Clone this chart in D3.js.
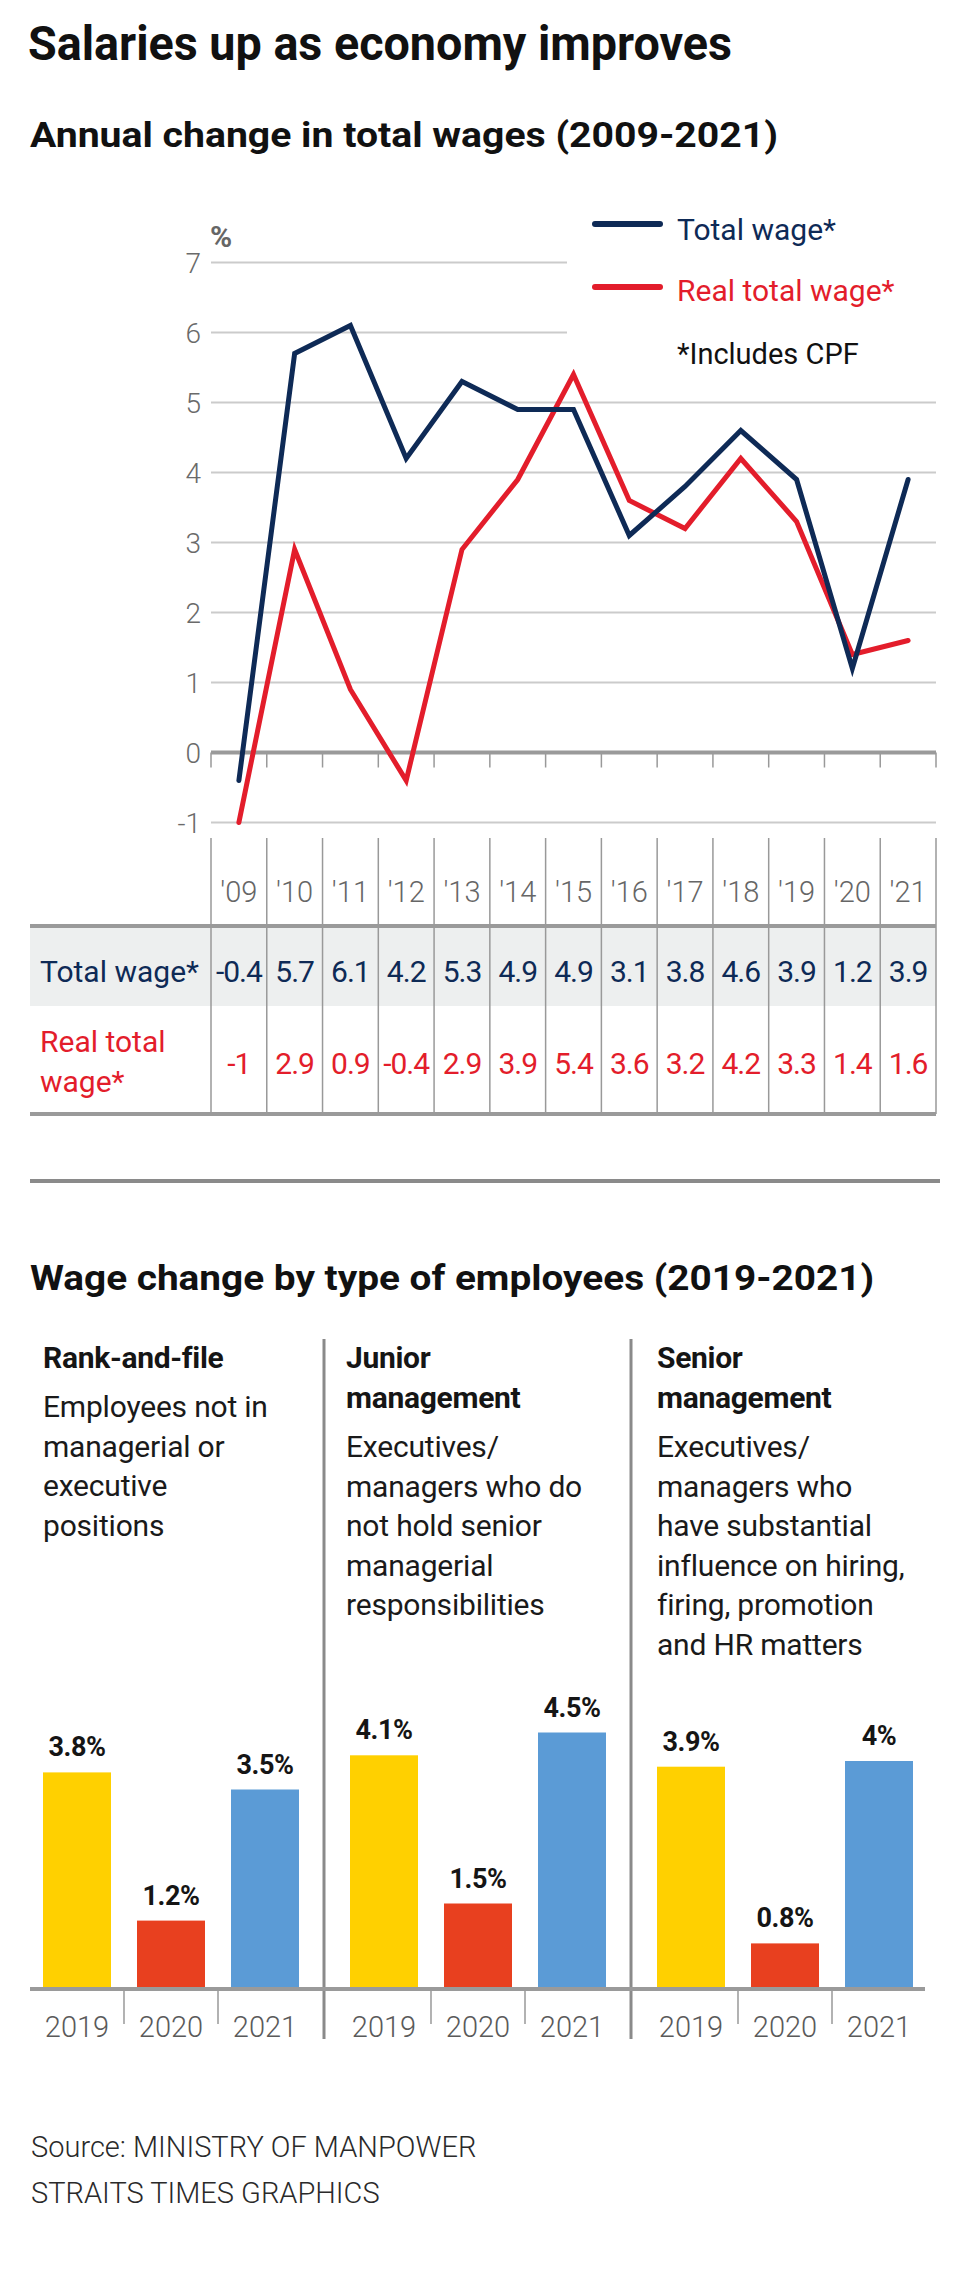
<!DOCTYPE html>
<html>
<head>
<meta charset="utf-8">
<script src="https://cdn.jsdelivr.net/npm/d3@7"></script>
<style>
  body { margin: 0; background: #fff; }
  svg { display: block; }
</style>
</head>
<body>
<script>
// ---------- DATA ----------
const years = ["'09", "'10", "'11", "'12", "'13", "'14", "'15", "'16", "'17", "'18", "'19", "'20", "'21"];
const totalWage = [-0.4, 5.7, 6.1, 4.2, 5.3, 4.9, 4.9, 3.1, 3.8, 4.6, 3.9, 1.2, 3.9];
const realTotalWage = [-1, 2.9, 0.9, -0.4, 2.9, 3.9, 5.4, 3.6, 3.2, 4.2, 3.3, 1.4, 1.6];
const yTicks = [-1, 0, 1, 2, 3, 4, 5, 6, 7];

const groups = ["Rank-and-file", "Junior management", "Senior management"];
const groupTitleLines = [["Rank-and-file"], ["Junior", "management"], ["Senior", "management"]];
const groupDescLines = [
  ["Employees not in", "managerial or", "executive", "positions"],
  ["Executives/", "managers who do", "not hold senior", "managerial", "responsibilities"],
  ["Executives/", "managers who", "have substantial", "influence on hiring,", "firing, promotion", "and HR matters"]
];
const barYears = ["2019", "2020", "2021"];
const rankAndFile = [3.8, 1.2, 3.5];
const juniorManagement = [4.1, 1.5, 4.5];
const seniorManagement = [3.9, 0.8, 4.0];
const barLabels = [["3.8%", "1.2%", "3.5%"], ["4.1%", "1.5%", "4.5%"], ["3.9%", "0.8%", "4%"]];

// ---------- STYLE ----------
const FONT = "Roboto, 'Liberation Sans', Arial, sans-serif";
const NAVY = "#0e2a56";
const RED = "#e31d2b";
const barColors = ["#ffd000", "#e8401f", "#5b9bd6"];

const W = 960, H = 2282;
const svg = d3.select("body").append("svg").attr("width", W).attr("height", H)
  .style("font-family", FONT);

function txt(x, y, s, size, opts = {}) {
  const t = svg.append("text").attr("x", x).attr("y", y).text(s)
    .attr("font-size", size)
    .attr("font-weight", opts.weight || 400)
    .attr("fill", opts.fill || "#111")
    .attr("text-anchor", opts.anchor || "start");
  if (opts.len) t.attr("textLength", opts.len).attr("lengthAdjust", "spacingAndGlyphs");
  if (opts.ls !== undefined) t.attr("letter-spacing", opts.ls);
  return t;
}

// ---------- TITLES ----------
txt(28, 60, "Salaries up as economy improves", 49, { weight: 700, len: 704 });
txt(30, 147, "Annual change in total wages (2009-2021)", 35, { weight: 700, len: 748 });

// ---------- LINE CHART ----------
const x = d3.scaleBand().domain(years).range([211, 936]);
const cx = d => x(d) + x.bandwidth() / 2;
const y = d3.scaleLinear().domain([-1, 7]).range([822.5, 262.5]);

// gridlines
svg.append("g").selectAll("line").data(yTicks.filter(t => t !== 0)).join("line")
  .attr("x1", 211).attr("x2", t => t >= 6 ? 567 : 936)
  .attr("y1", t => y(t)).attr("y2", t => y(t))
  .attr("stroke", "#cbcbcb").attr("stroke-width", 2);

// y labels
svg.append("g").selectAll("text").data(yTicks).join("text")
  .attr("x", 201).attr("y", t => y(t)).attr("dy", "0.36em")
  .attr("text-anchor", "end").attr("font-size", 28).attr("font-weight", 300)
  .attr("fill", "#6a6a6a").text(t => t);
txt(210, 247, "%", 30, { weight: 700, fill: "#666" });

// column boundaries
const bounds = years.map(d => x(d)).concat([x(years[years.length - 1]) + x.bandwidth()]);
svg.append("g").selectAll("line").data(bounds).join("line")
  .attr("x1", d => d).attr("x2", d => d).attr("y1", y(0)).attr("y2", y(0) + 15)
  .attr("stroke", "#999").attr("stroke-width", 1.5);

// zero line
svg.append("line").attr("x1", 211).attr("x2", 936).attr("y1", y(0)).attr("y2", y(0))
  .attr("stroke", "#9a9a9a").attr("stroke-width", 4);

// lines
const lineGen = d3.line().x((d, i) => cx(years[i])).y(d => y(d));
svg.append("path").datum(realTotalWage).attr("d", lineGen)
  .attr("fill", "none").attr("stroke", RED).attr("stroke-width", 5)
  .attr("stroke-linejoin", "miter").attr("stroke-linecap", "round");
svg.append("path").datum(totalWage).attr("d", lineGen)
  .attr("fill", "none").attr("stroke", NAVY).attr("stroke-width", 5)
  .attr("stroke-linejoin", "miter").attr("stroke-linecap", "round");

// legend
svg.append("line").attr("x1", 595).attr("x2", 660).attr("y1", 224).attr("y2", 224)
  .attr("stroke", NAVY).attr("stroke-width", 6).attr("stroke-linecap", "round");
txt(677, 240, "Total wage*", 30, { fill: NAVY });
svg.append("line").attr("x1", 595).attr("x2", 660).attr("y1", 287).attr("y2", 287)
  .attr("stroke", RED).attr("stroke-width", 6).attr("stroke-linecap", "round");
txt(677, 301, "Real total wage*", 30, { fill: RED });
txt(677, 364, "*Includes CPF", 29, { fill: "#111" });

// ---------- TABLE ----------
svg.append("rect").attr("x", 30).attr("y", 926).attr("width", 906).attr("height", 80)
  .attr("fill", "#edefef");
svg.append("g").selectAll("line").data(bounds).join("line")
  .attr("x1", d => d).attr("x2", d => d).attr("y1", 838).attr("y2", 1114)
  .attr("stroke", "#999").attr("stroke-width", 1.5);
[926, 1114].forEach(yy => svg.append("line").attr("x1", 30).attr("x2", 936)
  .attr("y1", yy).attr("y2", yy).attr("stroke", "#9a9a9a").attr("stroke-width", 4));

svg.append("g").selectAll("text").data(years).join("text")
  .attr("x", d => cx(d)).attr("y", 902).attr("text-anchor", "middle")
  .attr("font-size", 29).attr("font-weight", 300).attr("fill", "#666").text(d => d);

txt(40, 982, "Total wage*", 30, { fill: NAVY });
svg.append("g").selectAll("text").data(totalWage).join("text")
  .attr("x", (d, i) => cx(years[i])).attr("y", 982).attr("text-anchor", "middle")
  .attr("font-size", 30).attr("fill", NAVY).attr("letter-spacing", -1).text(d => d);

txt(40, 1052, "Real total", 30, { fill: RED });
txt(40, 1092, "wage*", 30, { fill: RED });
svg.append("g").selectAll("text").data(realTotalWage).join("text")
  .attr("x", (d, i) => cx(years[i])).attr("y", 1074).attr("text-anchor", "middle")
  .attr("font-size", 30).attr("fill", RED).attr("letter-spacing", -1).text(d => d);

// separator
svg.append("line").attr("x1", 30).attr("x2", 940).attr("y1", 1181).attr("y2", 1181)
  .attr("stroke", "#8a8a8a").attr("stroke-width", 4);

// ---------- BAR SECTION ----------
txt(30, 1290, "Wage change by type of employees (2019-2021)", 35, { weight: 700, len: 844 });

const groupValues = [rankAndFile, juniorManagement, seniorManagement];
const gx = d3.scaleBand().domain(groups).range([30, 951]);
const bx = d3.scaleBand().domain(barYears).range([13, 269]).paddingInner(0.2766).paddingOuter(0);
const by = d3.scaleLinear().domain([0, 5]).range([1989, 1989 - 285]);

// panel dividers
svg.append("g").selectAll("line").data(groups.slice(1)).join("line")
  .attr("x1", d => gx(d) - 13).attr("x2", d => gx(d) - 13)
  .attr("y1", 1339).attr("y2", 2039).attr("stroke", "#8a8a8a").attr("stroke-width", 3);

groups.forEach((g, gi) => {
  const ox = gx(g);
  const tx = ox + (gi === 1 ? 9 : 13);
  groupTitleLines[gi].forEach((l, li) => txt(tx, 1368 + li * 40, l, 30, { weight: 700, fill: "#151515", ls: -0.3 }));
  const d0 = 1368 + (groupTitleLines[gi].length - 1) * 40 + 49;
  groupDescLines[gi].forEach((l, li) => txt(tx, d0 + li * 39.6, l, 30, { weight: 400, fill: "#1a1a1a", ls: -0.2 }));

  const vals = groupValues[gi];
  const gg = svg.append("g").attr("transform", `translate(${ox},0)`);
  gg.selectAll("rect").data(vals).join("rect")
    .attr("x", (d, i) => bx(barYears[i])).attr("width", bx.bandwidth())
    .attr("y", d => by(d)).attr("height", d => by(0) - by(d))
    .attr("fill", (d, i) => barColors[i]);
  gg.selectAll("text.v").data(vals).join("text").attr("class", "v")
    .attr("x", (d, i) => bx(barYears[i]) + bx.bandwidth() / 2)
    .attr("y", d => by(d) - 16).attr("text-anchor", "middle")
    .attr("font-size", 27).attr("font-weight", 700).attr("fill", "#151515")
    .attr("letter-spacing", -0.5)
    .text((d, i) => barLabels[gi][i]);
  gg.selectAll("text.yr").data(barYears).join("text").attr("class", "yr")
    .attr("x", d => bx(d) + bx.bandwidth() / 2).attr("y", 2037).attr("text-anchor", "middle")
    .attr("font-size", 29).attr("font-weight", 300).attr("fill", "#5a5a5a").text(d => d);
  gg.selectAll("line.sep").data(barYears.slice(1)).join("line").attr("class", "sep")
    .attr("x1", d => bx(d) - (bx.step() - bx.bandwidth()) / 2)
    .attr("x2", d => bx(d) - (bx.step() - bx.bandwidth()) / 2)
    .attr("y1", 1990).attr("y2", 2024).attr("stroke", "#999").attr("stroke-width", 1.5);
});

svg.append("line").attr("x1", 30).attr("x2", 925).attr("y1", 1989).attr("y2", 1989)
  .attr("stroke", "#9a9a9a").attr("stroke-width", 4);

// ---------- SOURCE ----------
txt(31, 2157, "Source: MINISTRY OF MANPOWER", 29, { fill: "#2a2a2a", weight: 300 });
txt(31, 2203, "STRAITS TIMES GRAPHICS", 29, { fill: "#2a2a2a", weight: 300 });
</script>
</body>
</html>
